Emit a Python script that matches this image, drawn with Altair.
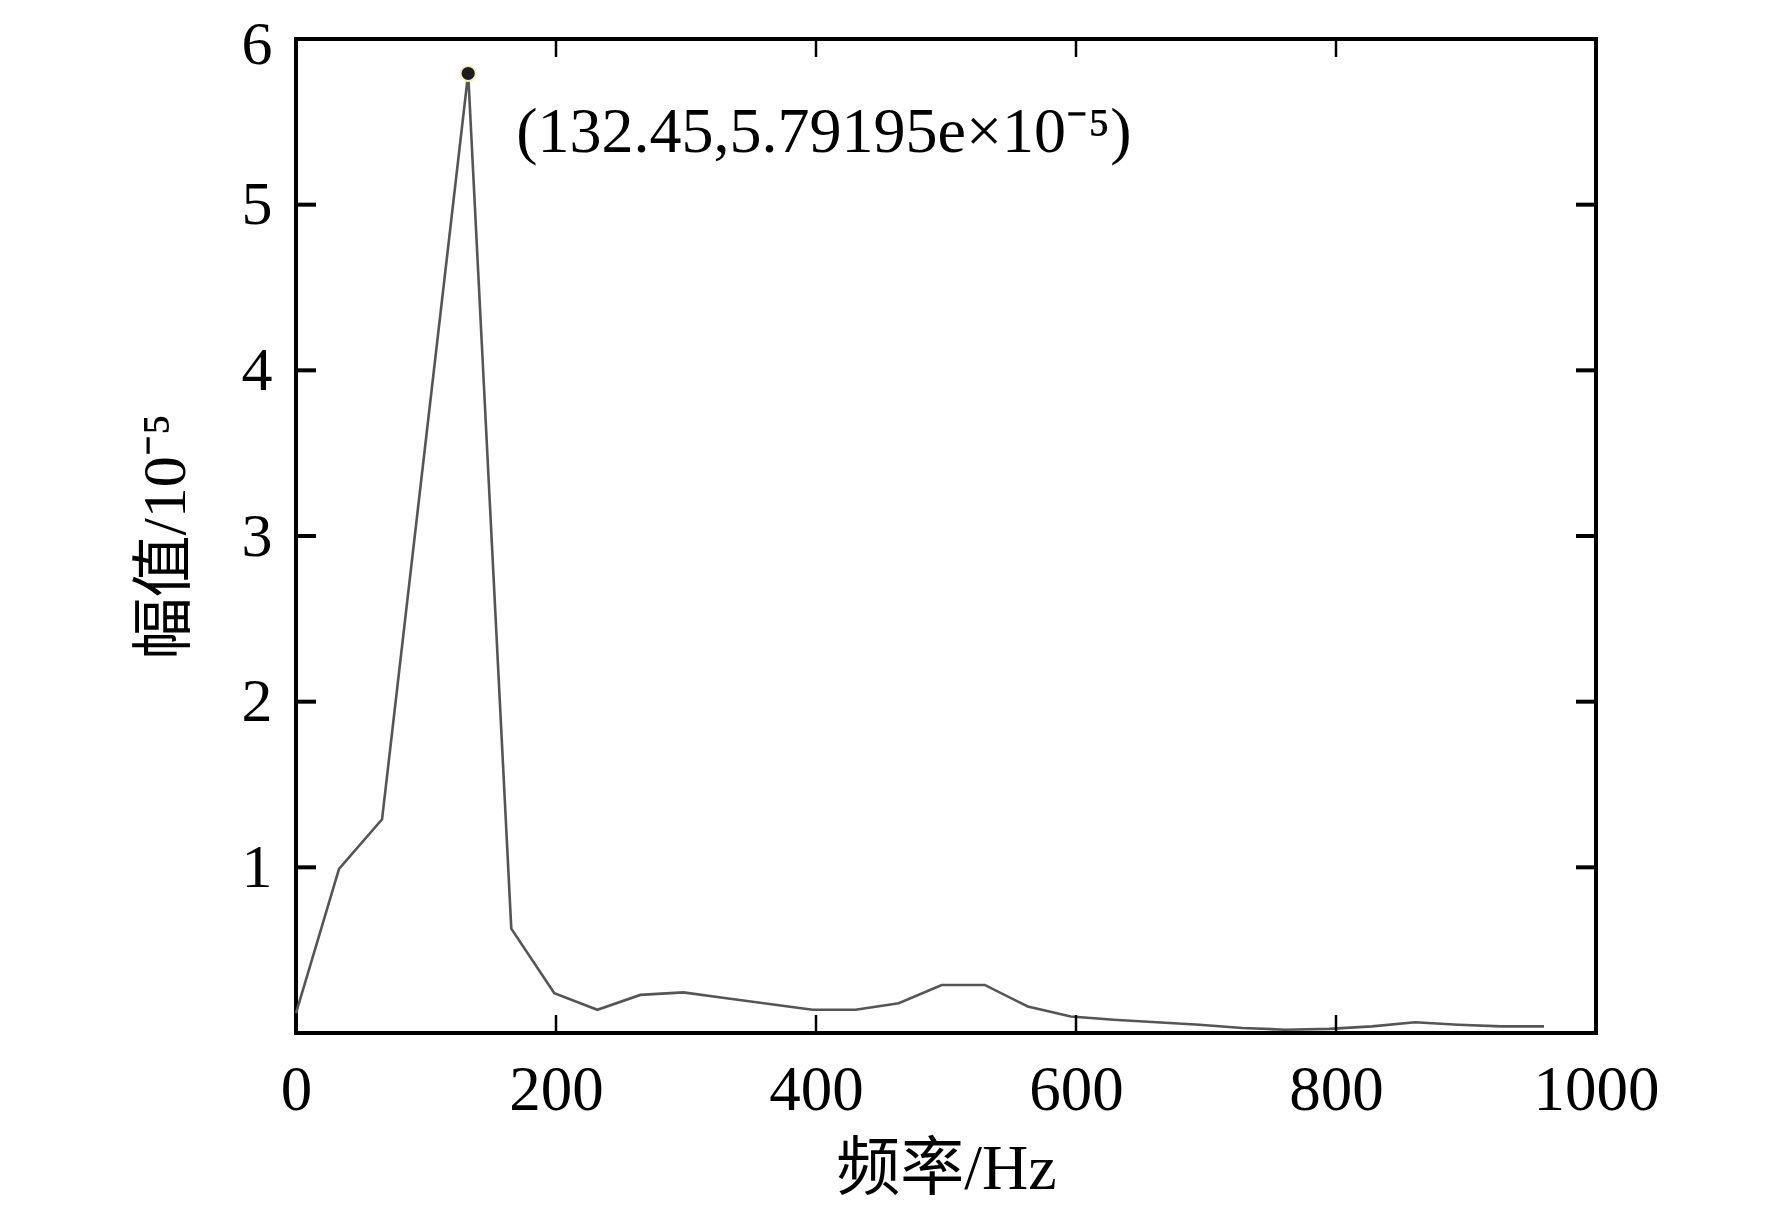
import altair as alt
import pandas as pd

# ---- data ----
freq = [0.0, 33.1, 66.2, 132.45, 165.6, 198.7, 231.8, 264.9, 298.0, 331.1,
        364.2, 397.4, 430.4, 463.6, 496.7, 529.8, 562.9, 596.0, 629.0, 662.0,
        695.0, 728.0, 761.0, 794.6, 827.7, 860.8, 894.0, 927.0, 960.0]
amp = [0.12, 0.99, 1.29, 5.79195, 0.63, 0.24, 0.14, 0.23, 0.245, 0.21,
       0.175, 0.14, 0.14, 0.18, 0.29, 0.29, 0.16, 0.10, 0.08, 0.065,
       0.05, 0.03, 0.02, 0.025, 0.04, 0.065, 0.05, 0.04, 0.04]

peak_x = [132.45]
peak_y = [5.79195]
peak_label = ["(132.45,5.79195e×10⁻⁵)"]

x_ticks = [0, 200, 400, 600, 800, 1000]
y_ticks = [1, 2, 3, 4, 5, 6]
x_inner_ticks = [200, 400, 600, 800]
y_inner_ticks = [1, 2, 3, 4, 5]

x_title = "频率/Hz"
y_title = "幅值/10⁻⁵"

FONT = "Liberation Serif, Noto Sans CJK SC, serif"
W, H = 1300, 994

df = pd.DataFrame({"f": freq, "a": amp})
peak_df = pd.DataFrame({"f": peak_x, "a": peak_y, "label": peak_label})
xt_df = pd.DataFrame({"t": x_inner_ticks})
yt_df = pd.DataFrame({"t": y_inner_ticks})

xscale = alt.Scale(domain=[0, 1000], nice=False, zero=False)
yscale = alt.Scale(domain=[0, 6], nice=False, zero=False)

xaxis = alt.Axis(values=x_ticks, format="d", title=x_title, grid=False, domain=False, ticks=False,
                 labelFont=FONT, labelFontSize=63, labelColor="black", labelPadding=26,
                 labelFlush=False, titleFont=FONT, titleFontSize=64, titleFontWeight="normal",
                 titleColor="black", titleY=104, titleBaseline="top", titleX=W / 2)
yaxis = alt.Axis(values=y_ticks, format="d", title=y_title, grid=False, domain=False, ticks=False,
                 labelFont=FONT, labelFontSize=62, labelColor="black", labelPadding=24,
                 labelOffset={"condition": {"test": "datum.value == 6", "value": 5}, "value": 0},
                 labelFlush=False, titleFont=FONT, titleFontSize=62, titleFontWeight="normal",
                 titleColor="black", titleX=-131, titleY=H / 2, titleAngle=-90,
                 titleBaseline="middle", titleAlign="center")

line = alt.Chart(df).mark_line(color="#555555", strokeWidth=2.6).encode(
    x=alt.X("f:Q", scale=xscale, axis=xaxis),
    y=alt.Y("a:Q", scale=yscale, axis=yaxis),
)

pt = alt.Chart(peak_df).mark_point(filled=True, size=230, fill="#1c1c1c", opacity=1,
                                    stroke="#f3efbd", strokeWidth=2).encode(
    x=alt.X("f:Q", scale=xscale), y=alt.Y("a:Q", scale=yscale))

txt = alt.Chart(peak_df).mark_text(align="left", baseline="alphabetic", dx=48, dy=79,
                                    font=FONT, fontSize=64, color="black").encode(
    x=alt.X("f:Q", scale=xscale), y=alt.Y("a:Q", scale=yscale), text="label:N")

bt = alt.Chart(xt_df).mark_rule(color="black", strokeWidth=2.5).encode(
    x=alt.X("t:Q", scale=xscale), y=alt.value(H), y2=alt.value(H - 18))
tt = alt.Chart(xt_df).mark_rule(color="black", strokeWidth=2.5).encode(
    x=alt.X("t:Q", scale=xscale), y=alt.value(0), y2=alt.value(18))
lt = alt.Chart(yt_df).mark_rule(color="black", strokeWidth=4).encode(
    y=alt.Y("t:Q", scale=yscale), x=alt.value(0), x2=alt.value(20))
rt = alt.Chart(yt_df).mark_rule(color="black", strokeWidth=4).encode(
    y=alt.Y("t:Q", scale=yscale), x=alt.value(W), x2=alt.value(W - 20))

chart = alt.layer(line, bt, tt, lt, rt, pt, txt).properties(
    width=W, height=H,
    autosize=alt.AutoSizeParams(type="none"),
    padding={"left": 288, "top": 31, "right": 160, "bottom": 178},
    background="white",
).configure_view(stroke="black", strokeWidth=4)

chart.save("out.html", embed_options={"renderer": "svg", "actions": False})
